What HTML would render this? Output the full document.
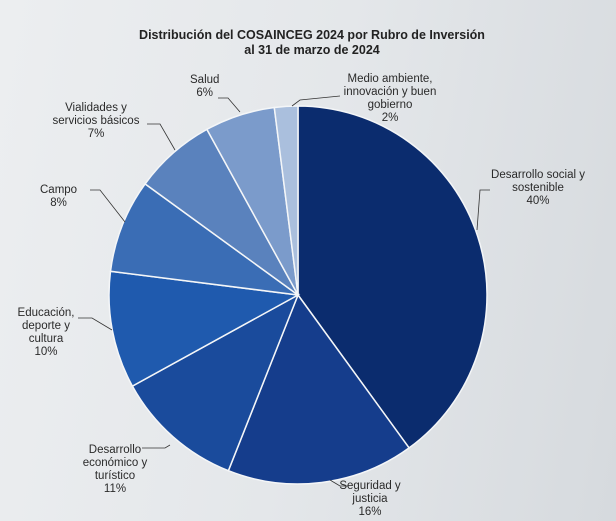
<!DOCTYPE html>
<html><head><meta charset="utf-8"><style>
html,body{margin:0;padding:0;width:616px;height:521px;overflow:hidden;
background:linear-gradient(100deg,#eceef0 0%,#e4e7ea 50%,#d6dade 100%);
font-family:"Liberation Sans",sans-serif;}
.t{position:absolute;font-size:11.5px;color:#2a2a2a;text-align:center;line-height:13px;white-space:nowrap;}
.h{position:absolute;left:0;width:616px;top:28px;text-align:center;font-weight:bold;font-size:12.5px;color:#222;line-height:15px;}
</style></head><body>
<div class="h" style="left:4px">Distribución del COSAINCEG 2024 por Rubro de Inversión<br>al 31 de marzo de 2024</div>
<svg width="616" height="521" style="position:absolute;left:0;top:0">
<g stroke="#f4f6f8" stroke-width="1.5">
<path d="M298,295 L298,106 A189,189 0 0 1 409.1,447.9 Z" fill="#0b2c6e"/>
<path d="M298,295 L409.1,447.9 A189,189 0 0 1 228.4,470.7 Z" fill="#153d8c"/>
<path d="M298,295 L228.4,470.7 A189,189 0 0 1 132.4,386.1 Z" fill="#1a4b9c"/>
<path d="M298,295 L132.4,386.1 A189,189 0 0 1 110.5,271.3 Z" fill="#1f5aae"/>
<path d="M298,295 L110.5,271.3 A189,189 0 0 1 145.1,183.9 Z" fill="#3a6db5"/>
<path d="M298,295 L145.1,183.9 A189,189 0 0 1 206.9,129.4 Z" fill="#5a82bd"/>
<path d="M298,295 L206.9,129.4 A189,189 0 0 1 274.3,107.5 Z" fill="#7b9bcb"/>
<path d="M298,295 L274.3,107.5 A189,189 0 0 1 298,106 Z" fill="#aabfdd"/>
</g>
<g stroke="#333" stroke-width="0.8" fill="none">
<polyline points="218,98 228,98 240,112"/>
<polyline points="340,96 300,100 292,106"/>
<polyline points="490,190 480,190 477,230"/>
<polyline points="147,124 160,124 175,150"/>
<polyline points="90,190 100,190 125,222"/>
<polyline points="78,318 92,318 112,330"/>
<polyline points="142,448 165,448 170,445"/>
<polyline points="330,480 340,486 348,486"/>
</g>
</svg>
<div class="t" style="left:190px;top:74px">Salud<br>6%</div>
<div class="t" style="left:335px;top:73px;width:110px">Medio ambiente,<br>innovación y buen<br>gobierno<br>2%</div>
<div class="t" style="left:478px;top:169px;width:120px">Desarrollo social y<br>sostenible<br>40%</div>
<div class="t" style="left:40px;top:102px;width:112px">Vialidades y<br>servicios básicos<br>7%</div>
<div class="t" style="left:40px;top:184px">Campo<br>8%</div>
<div class="t" style="left:8px;top:307px;width:76px">Educación,<br>deporte y<br>cultura<br>10%</div>
<div class="t" style="left:75px;top:444px;width:80px">Desarrollo<br>económico y<br>turístico<br>11%</div>
<div class="t" style="left:330px;top:480px;width:80px">Seguridad y<br>justicia<br>16%</div>
</body></html>
